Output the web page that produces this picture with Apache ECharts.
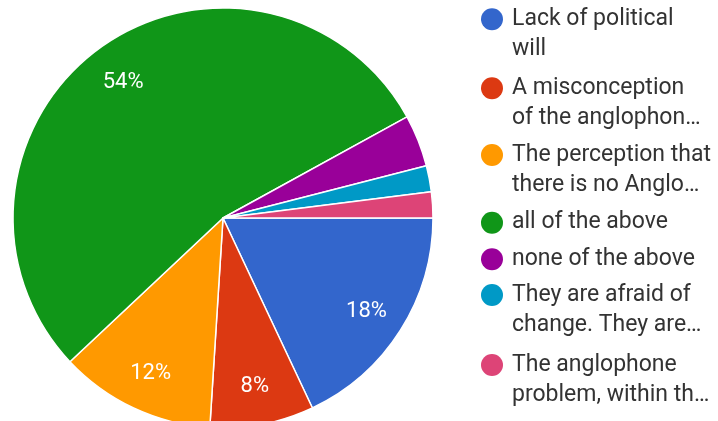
<!DOCTYPE html>
<html>
<head>
<meta charset="utf-8">
<script src="https://cdn.jsdelivr.net/npm/echarts@6/dist/echarts.min.js"></script>
<style>
  html, body { margin: 0; padding: 0; background: #fff; }
  #chart { width: 718px; height: 421px; }
</style>
</head>
<body>
<div id="chart"></div>
<script>
// Answer categories, in drawing order (clockwise from 3 o'clock)
const categories = [
  'Lack of political will',
  'A misconception of the anglophon…',
  'The perception that there is no Anglo…',
  'all of the above',
  'none of the above',
  'They are afraid of change. They are…',
  'The anglophone problem, within th…'
];

// Legend text, wrapped as shown beside each swatch
const legendLines = [
  ['Lack of political', 'will'],
  ['A misconception', 'of the anglophon…'],
  ['The perception that', 'there is no Anglo…'],
  ['all of the above'],
  ['none of the above'],
  ['They are afraid of', 'change. They are…'],
  ['The anglophone', 'problem, within th…']
];

// Share of responses, percent
const shares = [18, 8, 12, 54, 4, 2, 2];

const palette = ['#3366cc', '#dc3912', '#ff9900', '#109618', '#990099', '#0099c6', '#dd4477'];

// Vertical centre of each legend swatch
const legendRowY = [19.3, 88.3, 155, 222.7, 259.3, 295, 365];

const chart = echarts.init(document.getElementById('chart'), null, { renderer: 'canvas' });

const pieData = categories.map((name, i) => ({ name, value: shares[i] }));

// One legend block per entry so each row sits exactly where it belongs.
// A leading blank line (plus trailing blank for single-line rows) keeps the
// swatch level with the first text line.
const legends = categories.map((name, i) => {
  const lines = legendLines[i];
  const text = lines.length > 1 ? '\n' + lines.join('\n') : '\n' + lines[0] + '\n';
  return {
    data: [name],
    orient: 'vertical',
    left: 481,
    top: legendRowY[i] - 45,
    padding: 0,
    icon: 'circle',
    itemWidth: 22,
    itemHeight: 22,
    selectedMode: false,
    itemStyle: { borderWidth: 0 },
    formatter: () => text,
    textStyle: {
      fontFamily: 'Roboto',
      fontSize: 23,
      lineHeight: 30,
      color: '#333333',
      padding: [0, 0, 0, 4],
      backgroundColor: 'rgba(0,0,0,0)'
    }
  };
});

chart.setOption({
  animation: false,
  color: palette,
  legend: legends,
  series: [
    {
      type: 'pie',
      center: [223, 218],
      radius: [0, 210],
      startAngle: 0,
      clockwise: true,
      avoidLabelOverlap: false,
      label: { show: false },
      labelLine: { show: false },
      itemStyle: { borderColor: '#ffffff', borderWidth: 1.5 },
      emphasis: { disabled: true },
      data: pieData
    },
    {
      // Percentage labels, placed in the outer band of each slice
      type: 'pie',
      center: [223, 218],
      radius: [124, 210],
      startAngle: 0,
      clockwise: true,
      silent: true,
      avoidLabelOverlap: false,
      itemStyle: { color: 'rgba(0,0,0,0)', borderWidth: 0 },
      labelLine: { show: false },
      emphasis: { disabled: true },
      label: {
        show: true,
        position: 'inside',
        offset: [0, 2],
        fontFamily: 'Roboto',
        fontSize: 22,
        color: '#ffffff',
        formatter: p => (p.value >= 5 ? p.value + '%' : '')
      },
      data: pieData
    }
  ]
});
</script>
</body>
</html>
